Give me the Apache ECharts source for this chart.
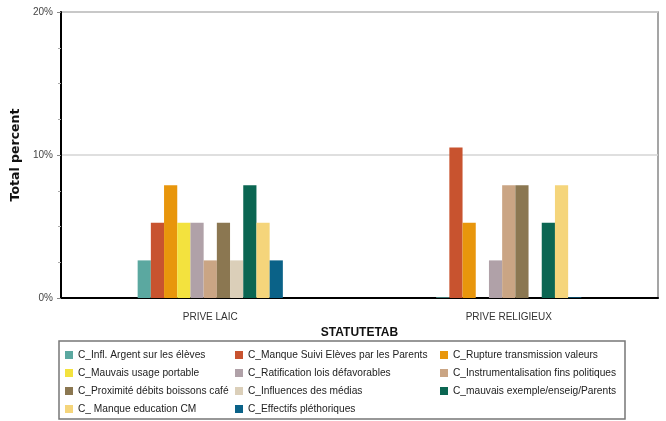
<!DOCTYPE html>
<html>
<head>
<meta charset="utf-8">
<script src="https://cdn.jsdelivr.net/npm/echarts@6/dist/echarts.min.js"></script>
<style>
  html, body { margin: 0; padding: 0; background: #fff; }
  #chart { width: 666px; height: 421px; }
</style>
</head>
<body>
<div id="chart"></div>
<script>
// categories on the x axis
var categories = ['PRIVE LAIC', 'PRIVE RELIGIEUX']

// one series per cause (percent)
var seriesNames = [
  'C_Infl. Argent sur les élèves',
  'C_Manque Suivi Elèves par les Parents',
  'C_Rupture transmission valeurs',
  'C_Mauvais usage portable',
  'C_Ratification lois défavorables',
  'C_Instrumentalisation fins politiques',
  'C_Proximité débits boissons café',
  'C_Influences des médias',
  'C_mauvais exemple/enseig/Parents',
  'C_ Manque education CM',
  'C_Effectifs pléthoriques'
]
var priveLaic = [2.63, 5.26, 7.89, 5.26, 5.26, 2.63, 5.26, 2.63, 7.89, 5.26, 2.63]
var priveReligieux = [0.05, 10.53, 5.26, 0, 2.63, 7.89, 7.89, 0, 5.26, 7.89, 0.05]

var yTicks = [0, 10, 20]

var colors = ['#5ba8a0', '#c8532f', '#e8960c', '#f3e23e', '#b0a1a8', '#caa584',
  '#8b7751', '#dbcfb9', '#0b6652', '#f5d57b', '#0a6288']

var chart = echarts.init(document.getElementById('chart'))

var series = []
for (var i = 0; i < seriesNames.length; i++) {
  series.push({
    name: seriesNames[i],
    type: 'bar',
    data: [priveLaic[i], priveReligieux[i]],
    barWidth: 13.2,
    barGap: 0,
    itemStyle: { color: colors[i] }
  })
}

var legendFont = { fontFamily: 'Liberation Sans, Arial', fontSize: 10.2, color: '#222' }
function legendCol(names, left) {
  return {
    data: names,
    orient: 'vertical',
    left: left,
    top: 350,
    padding: 0,
    itemWidth: 8,
    itemHeight: 8,
    itemGap: 8,
    icon: 'rect',
    selectedMode: false,
    textStyle: legendFont
  }
}

chart.setOption({
  animation: false,
  color: colors,
  grid: {
    left: 61,
    right: 8,
    top: 12,
    bottom: 123,
    show: true,
    borderColor: '#888',
    borderWidth: 1.5
  },
  legend: [
    legendCol([seriesNames[0], seriesNames[3], seriesNames[6], seriesNames[9]], 65),
    legendCol([seriesNames[1], seriesNames[4], seriesNames[7], seriesNames[10]], 235),
    legendCol([seriesNames[2], seriesNames[5], seriesNames[8]], 440)
  ],
  graphic: [{
    type: 'rect',
    shape: { x: 59, y: 341, width: 566, height: 78 },
    style: { fill: 'none', stroke: '#777', lineWidth: 1.5 }
  }],
  xAxis: {
    type: 'category',
    data: categories,
    name: 'STATUTETAB',
    nameLocation: 'middle',
    nameGap: 29,
    nameTextStyle: { fontWeight: 'bold', fontSize: 12, color: '#111', fontFamily: 'Liberation Sans, Arial' },
    axisLine: { lineStyle: { color: '#000', width: 2 } },
    axisTick: { alignWithLabel: true, length: 5, lineStyle: { color: '#777' } },
    axisLabel: { fontSize: 10, color: '#333', margin: 14, fontFamily: 'Liberation Sans, Arial' }
  },
  yAxis: {
    type: 'value',
    min: 0,
    max: 20,
    interval: 10,
    name: 'Total percent',
    nameLocation: 'middle',
    nameRotate: 90,
    nameGap: 36,
    nameTextStyle: { fontWeight: 'bold', fontSize: 12.5, color: '#111', fontFamily: 'DejaVu Sans, Arial' },
    axisLine: { show: true, lineStyle: { color: '#000', width: 2 } },
    axisTick: { show: true, length: 4, lineStyle: { color: '#888' } },
    minorTick: { show: true, splitNumber: 4, length: 3, lineStyle: { color: '#aaa' } },
    axisLabel: {
      fontSize: 10, color: '#444', margin: 8,
      fontFamily: 'Liberation Sans, Arial',
      formatter: function (v) { return yTicks.indexOf(v) >= 0 ? v + '%' : '' }
    },
    splitLine: { lineStyle: { color: '#d4d4d4', width: 1.5 } }
  },
  series: series
})
</script>
</body>
</html>
